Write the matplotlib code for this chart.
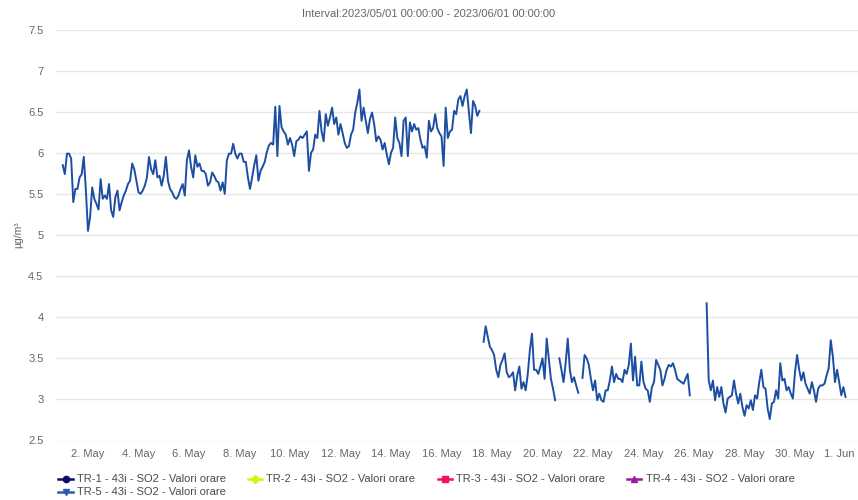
import numpy as np
import pandas as pd
import matplotlib
matplotlib.use("Agg")
import matplotlib.pyplot as plt
import matplotlib.dates as mdates
import matplotlib.transforms as mtransforms
from matplotlib.lines import Line2D

plt.rcParams['font.family'] = ['Liberation Sans', 'DejaVu Sans']

# ---------------- data ----------------
title = "Interval:2023/05/01 00:00:00 - 2023/06/01 00:00:00"
y_label = "µg/m³"
series_names = [
    "TR-1 - 43i - SO2 - Valori orare",
    "TR-2 - 43i - SO2 - Valori orare",
    "TR-3 - 43i - SO2 - Valori orare",
    "TR-4 - 43i - SO2 - Valori orare",
    "TR-5 - 43i - SO2 - Valori orare",
]
series_colors = ["#0c0c6b", "#ddf20a", "#f5115e", "#9a1a9a", "#2d5ba8"]
series_markers = ["o", "D", "s", "^", "v"]
start_time = "2023-05-01 00:00"
step = "2h"

nan = float("nan")
# TR-5 values, one every 2 hours
so2_may01_09 = [
    5.85, 5.74, 5.99, 5.99, 5.93, 5.40, 5.56, 5.56, 5.70, 5.74,
    5.95, 5.54, 5.05, 5.22, 5.58, 5.44, 5.38, 5.31, 5.68, 5.44,
    5.48, 5.44, 5.62, 5.30, 5.22, 5.46, 5.54, 5.30, 5.40, 5.48,
    5.54, 5.62, 5.66, 5.87, 5.80, 5.66, 5.52, 5.50, 5.54, 5.60,
    5.70, 5.95, 5.80, 5.74, 5.91, 5.70, 5.72, 5.60, 5.72, 5.95,
    5.66, 5.56, 5.52, 5.46, 5.44, 5.48, 5.56, 5.62, 5.48, 5.91,
    6.03, 5.83, 5.70, 5.97, 5.83, 5.87, 5.78, 5.78, 5.74, 5.60,
    5.64, 5.76, 5.72, 5.66, 5.64, 5.54, 5.64, 5.50, 5.91, 5.99,
    5.99, 6.11, 5.99, 5.93, 5.99, 5.99, 5.89, 5.89, 5.70, 5.56,
    5.70, 5.85, 5.97, 5.66, 5.78, 5.83, 5.89, 6.01, 6.09,
]
so2_may09_17 = [
    6.12, 6.10, 6.56, 5.96, 6.57, 6.31, 6.26, 6.22, 6.10, 6.18,
    6.10, 5.96, 6.14, 6.16, 6.20, 6.18, 6.22, 6.26, 5.78, 6.00,
    6.04, 6.22, 6.18, 6.51, 6.26, 6.14, 6.47, 6.33, 6.43, 6.55,
    6.35, 6.43, 6.22, 6.35, 6.24, 6.12, 6.06, 6.08, 6.22, 6.28,
    6.49, 6.61, 6.77, 6.39, 6.55, 6.39, 6.24, 6.41, 6.49, 6.35,
    6.14, 6.20, 6.16, 6.04, 6.12, 5.98, 5.86, 6.00, 6.06, 6.43,
    6.18, 6.12, 5.96, 6.39, 6.43, 5.96, 6.37, 6.26, 6.35, 6.28,
    6.30, 6.16, 6.06, 6.08, 5.94, 6.39, 6.26, 6.30, 6.47, 6.30,
    6.24, 6.20, 5.84, 6.55, 6.18, 6.26, 6.28, 6.51, 6.47, 6.65,
    6.69, 6.57, 6.69, 6.77, 6.51, 6.24, 6.63, 6.57, 6.45, 6.51,
]
so2_may17_26 = [
    nan,
    3.70, 3.89, 3.76, 3.64, 3.60, 3.54, 3.36, 3.27, 3.42, 3.48,
    3.56, 3.33, 3.27, 3.29, 3.33, 3.11, 3.29, 3.40, 3.13, 3.21,
    3.11, 3.31, 3.60, 3.80, 3.36, 3.36, 3.31, 3.40, 3.50, 3.25,
    3.74, 3.50, 3.25, 3.13, 2.99, nan, 3.50, 3.36, 3.21, 3.44,
    3.74, 3.36, 3.21, 3.27, 3.17, 3.08, nan, 3.26, 3.54, 3.50,
    3.42, 3.25, 3.11, 3.23, 2.99, 3.07, 2.99, 2.97, 3.11, 3.11,
    3.23, 3.40, 3.21, 3.31, 3.25, 3.25, 3.21, 3.36, 3.31, 3.42,
    3.68, 3.23, 3.52, 3.17, 3.17, 3.46, 3.21, 3.13, 3.11, 2.97,
    3.15, 3.21, 3.48, 3.42, 3.36, 3.17, 3.25, 3.36, 3.42,
    3.40, 3.44, 3.36, 3.25, 3.23, 3.21, 3.19, 3.25, 3.31, 3.05,
]
so2_may26_jun01 = [
    nan, nan, nan, nan, nan, nan, nan,
    4.17, 3.23, 3.11, 3.23, 2.99, 3.15, 3.03, 3.15, 2.95, 2.84,
    3.01, 3.03, 3.05, 3.23, 3.07, 2.95, 3.07, 2.91, 2.80, 2.93,
    2.89, 2.99, 2.87, 3.05, 3.01, 3.21, 3.36, 3.15, 3.13, 2.89,
    2.76, 2.95, 2.97, 3.11, 3.01, 3.44, 3.23, 3.25, 3.11, 3.15,
    3.07, 3.01, 3.33, 3.54, 3.36, 3.23, 3.33, 3.19, 3.13, 3.07,
    3.21, 3.11, 2.97, 3.13, 3.17, 3.17, 3.19, 3.29, 3.38, 3.72,
    3.52, 3.21, 3.36, 3.21, 3.05, 3.15, 3.03,
]
y_ticks = [2.5, 3, 3.5, 4, 4.5, 5, 5.5, 6, 6.5, 7, 7.5]
x_tick_dates = pd.date_range("2023-05-02", "2023-06-01", freq="2D")

# ---------------- figure ----------------
W, H = 858, 500
fig = plt.figure(figsize=(W / 100, H / 100), dpi=100)
fig.patch.set_facecolor("white")

def fx(px):
    return px / W

def fy(py):
    return 1 - py / H

ax_left, ax_right, ax_top, ax_bottom = 56, 858, 29.5, 440.5
ax = fig.add_axes([fx(ax_left), fy(ax_bottom), fx(ax_right - ax_left), (ax_bottom - ax_top) / H])

values = np.array(so2_may01_09 + so2_may09_17 + so2_may17_26 + so2_may26_jun01, dtype=float)
times = pd.date_range(start_time, periods=len(values), freq=step)
ax.plot(times, values, color="#1c4fa3", lw=1.4, solid_joinstyle="round")

t0 = pd.Timestamp(start_time)
ax.set_xlim(t0 - pd.Timedelta(days=0.267), t0 + pd.Timedelta(days=31.495))
ax.set_ylim(2.5, 7.5)
ax.set_yticks(y_ticks)
ax.set_yticklabels([f"{v:g}" for v in y_ticks])
ax.set_xticks(x_tick_dates)
ax.set_xticklabels([d.strftime("%-d. %b") for d in x_tick_dates])
ax.grid(axis="y", color="#e6e6e6", lw=1)
ax.set_axisbelow(True)
for s in ax.spines.values():
    s.set_visible(False)
ax.tick_params(axis="both", length=0, colors="#666666", labelsize=8)
ax.tick_params(axis="y", pad=9)
ax.tick_params(axis="x", pad=6)

# shift last x label (1. Jun) left so it stays inside
lab = ax.get_xticklabels()[-1]
lab.set_transform(lab.get_transform() + mtransforms.ScaledTranslation(-6 / 100, 0, fig.dpi_scale_trans))

fig.text(0.5, fy(14), title, ha="center", va="center", fontsize=8, color="#666666")
fig.text(fx(18), fy(235), y_label, ha="center", va="center", rotation=90, fontsize=7.5, color="#666666")

# legend (row-wise like the original)
for i, (name, col, mk) in enumerate(zip(series_names, series_colors, series_markers)):
    row, c = divmod(i, 4)
    cx = 65.5 + c * 189.5
    cy = 479 + row * 12.7
    fig.add_artist(Line2D([fx(cx - 7), fx(cx + 7)], [fy(cy), fy(cy)], color=col, lw=1.8,
                          transform=fig.transFigure))
    fig.add_artist(Line2D([fx(cx)], [fy(cy)], color=col, marker=mk, markersize=4.5 if mk != "D" else 3.6,
                          lw=0, transform=fig.transFigure))
    fig.text(fx(cx + 11.5), fy(cy), name, ha="left", va="center", fontsize=8, color="#4a4a4a")

fig.savefig("out.png", dpi=100, facecolor="white")
